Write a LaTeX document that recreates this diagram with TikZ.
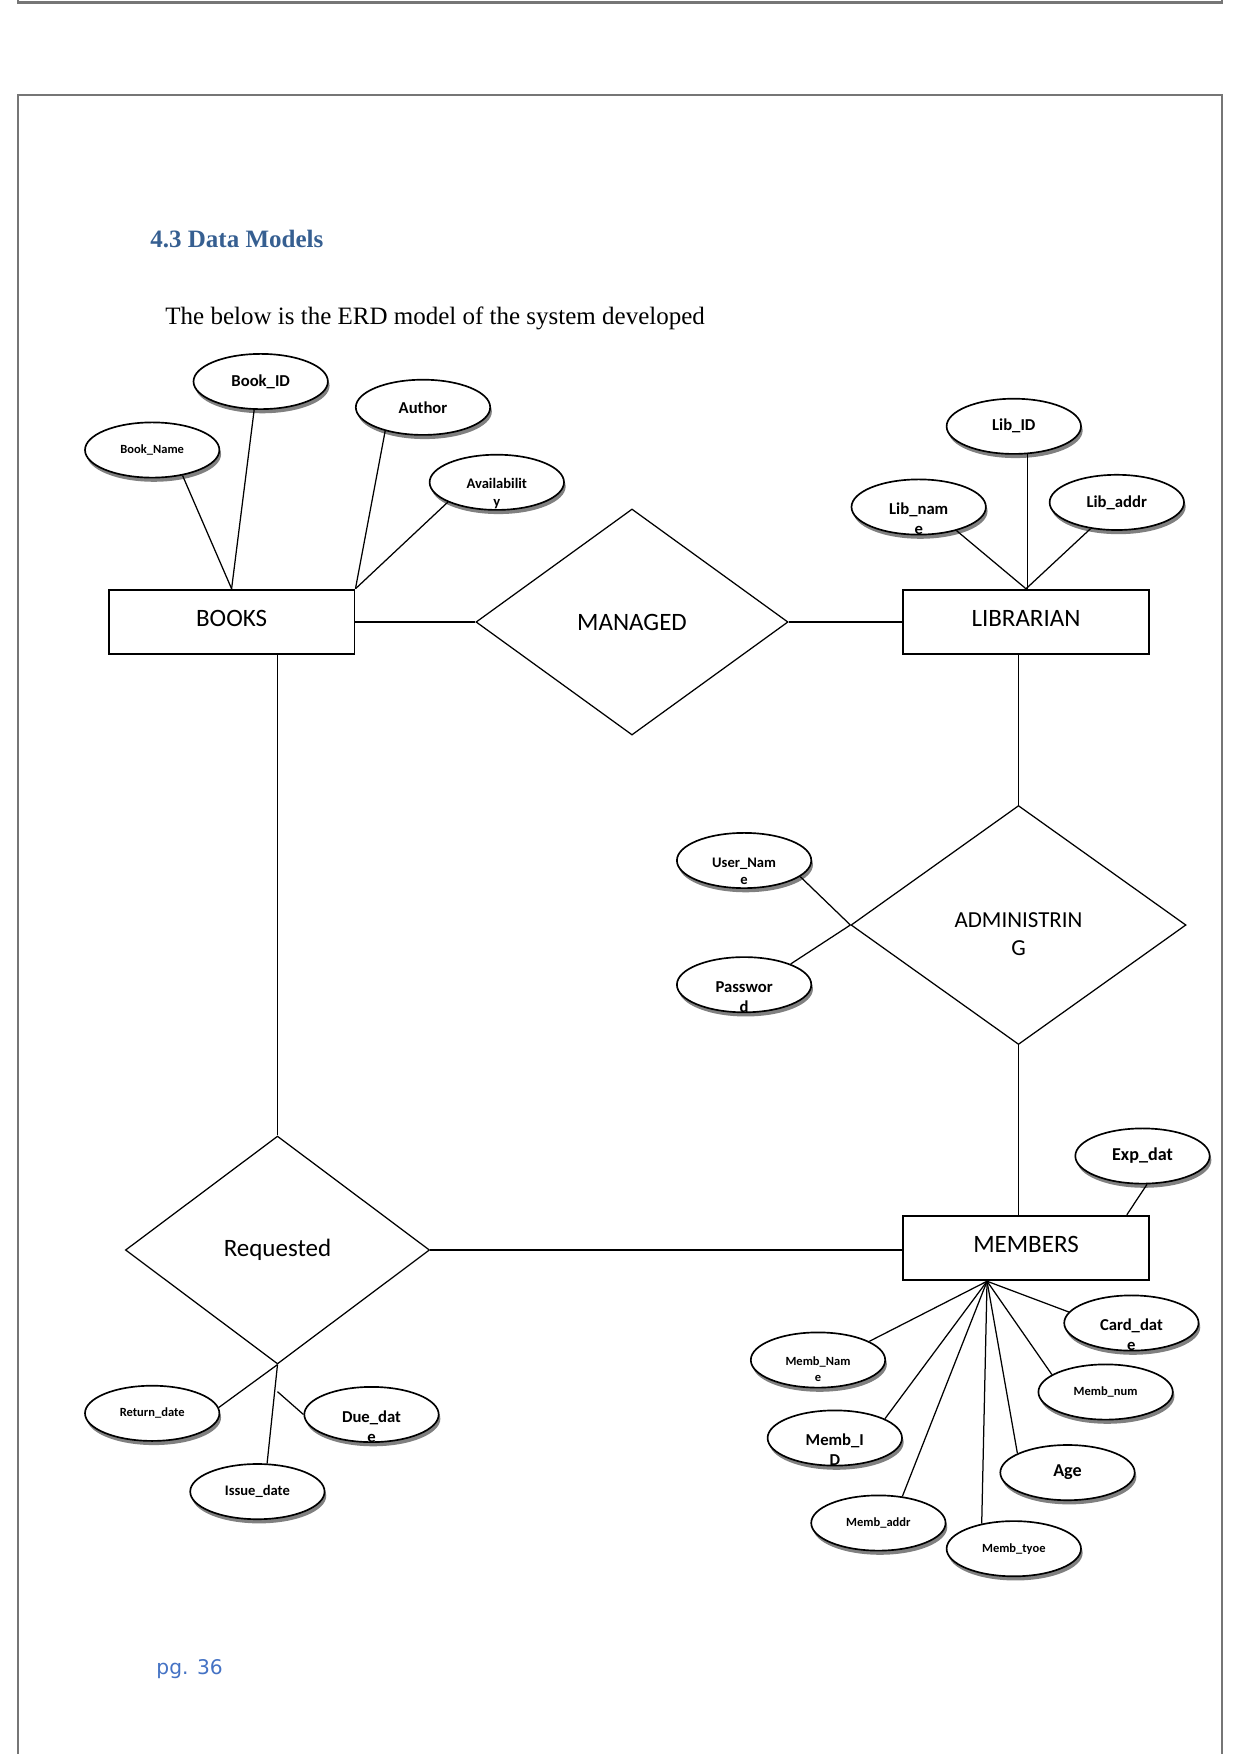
\documentclass[tikz,border=0pt]{standalone}
\usepackage{fontspec}
\setmainfont{Liberation Serif}
\newfontfamily\erdfont{Carlito}
\newfontfamily\pgfont{DejaVu Sans}
\usepackage{tikz}
\usetikzlibrary{shapes.geometric,shadows}
\definecolor{headBlue}{RGB}{54,95,145}
\definecolor{pageBlue}{RGB}{68,114,196}
\definecolor{frameGray}{RGB}{118,118,118}
\newcommand{\wrapped}[3][0.45em]{\smash{\raisebox{-#1}{\begin{tabular}[t]{@{}c@{}}#2\\#3\end{tabular}}}}

\begin{document}
\begin{tikzpicture}[x=0.48pt,y=-0.48pt,
  ent/.style={rectangle,draw,line width=0.9pt,minimum width=118pt,minimum height=31pt,
              text depth=3.2pt,font=\erdfont\fontsize{12}{14}\selectfont},
  rel/.style={diamond,draw,line width=0.6pt,inner sep=0pt,font=\erdfont\fontsize{12}{14}\selectfont},
  attr/.style={ellipse,draw,line width=0.8pt,fill=white,minimum width=64.5pt,minimum height=26.5pt,
               inner sep=0pt,font=\erdfont\bfseries\fontsize{8}{9.8}\selectfont,
               drop shadow={shadow xshift=0.8pt,shadow yshift=-2pt,fill=black!50,opacity=1}},
  txtS/.style={font=\erdfont\bfseries\fontsize{6}{7.6}\selectfont},
  txtM/.style={font=\erdfont\bfseries\fontsize{7}{8.6}\selectfont},
  txtL/.style={font=\erdfont\bfseries\fontsize{8.7}{10.4}\selectfont},
  ln/.style={line width=0.6pt},
  frame/.style={draw=frameGray,line width=1.2pt}
]
  \useasboundingbox (0,0) rectangle (1241,1754);
  % page frames
  \draw[frame](18,0)--(18,2.5)--(1222,2.5)--(1222,0);
  \draw[frame](18,1760)--(18,95)--(1222,95)--(1222,1760);

  \node[anchor=west,inner sep=0pt,text=headBlue,font=\bfseries\fontsize{12}{14}\selectfont](title) at (150,239){4.3 Data Models};
  \node[anchor=west,inner sep=0pt,font=\fontsize{12}{14}\selectfont](intro) at (165,318){The below is the ERD model of the system developed};
  \node[anchor=west,inner sep=0pt,text=pageBlue,font=\pgfont\fontsize{9.7}{12}\selectfont](pgno) at (156,1669){pg. 36};

  % entities and relationships
  \node[ent](books) at (231.6,622){BOOKS};
  \node[ent](lib)   at (1026,622){LIBRARIAN};
  \node[ent](mem)   at (1026,1248){MEMBERS};
  \node[rel,minimum width=149.8pt,minimum height=108.5pt](man) at (632,622){MANAGED};
  \node[rel,minimum width=160.8pt,minimum height=114.7pt,font=\erdfont\fontsize{11}{13.4}\selectfont](adm) at (1018.5,925){\wrapped[0.13em]{ADMINISTRIN}{G}};
  \node[rel,minimum width=146pt,minimum height=109.4pt](req) at (277.5,1250){Requested};

  \draw[ln](books.east)--(man.west);
  \draw[ln](man.east)--(lib.west);
  \draw[ln](req.north)--(req.north|-books.south);
  \draw[ln](adm.north)--(adm.north|-lib.south);
  \draw[ln](adm.south)--(adm.south|-mem.north);
  \draw[ln](req.east)--(req.east-|mem.west);

  % BOOKS attributes
  \node[attr](bid)        at (260.7,381.5){Book\_ID};
  \node[attr,txtS](bname) at (152.2,450){Book\_Name};
  \node[attr](auth)       at (423,407.3){Author};
  \node[attr,txtM](avail) at (496.8,482.3){\wrapped{Availabilit}{y}};
  \draw[ln](bname.320)--(books.north);
  \draw[ln](bid.257)--(books.north);
  \draw[ln](auth.212)--(books.north east);
  \draw[ln](avail.202)--(books.north east);

  % LIBRARIAN attributes
  \node[attr](lid)   at (1013.8,426.3){Lib\_ID};
  \node[attr](lname) at (918.7,507){\wrapped{Lib\_nam}{e}};
  \node[attr](laddr) at (1116.8,502.4){Lib\_addr};
  \draw[ln](lid.296)--(lid.296|-lib.north);
  \draw[ln](lname.328)--(lib.north);
  \draw[ln](laddr.225)--(lib.north);

  % ADMINISTRING attributes
  \node[attr,txtM](uname) at (744.1,860.5){\wrapped{User\_Nam}{e}};
  \node[attr](pwd)        at (744.1,984.7){\wrapped{Passwor}{d}};
  \draw[ln](uname.344)--(adm.west);
  \draw[ln](pwd.24)--(adm.west);

  % MEMBERS attributes
  \node[attr,txtL](exp)   at (1142.5,1156){Exp\_dat};
  \node[attr](card)       at (1131.4,1323){\wrapped{Card\_dat}{e}};
  \node[attr,txtS](mname) at (818,1360){\wrapped{Memb\_Nam}{e}};
  \node[attr,txtS](mnum)  at (1105.6,1392){Memb\_num};
  \node[attr](mid)        at (834.8,1438){\wrapped{Memb\_I}{D}};
  \node[attr,txtL](age)   at (1067.5,1472.6){Age};
  \node[attr,txtS](maddr) at (878.4,1523){Memb\_addr};
  \node[attr,txtS](mtype) at (1013.8,1548.7){Memb\_tyoe};
  \coordinate (mempin) at ([xshift=48.4pt]mem.north);
  \coordinate (memhub) at ([xshift=-18.7pt]mem.south);
  \draw[ln](exp.279)--(mempin);
  \draw[ln](card.170)--(memhub);
  \draw[ln](mname.20)--(memhub);
  \draw[ln](mnum.162)--(memhub);
  \draw[ln](mid.21)--(memhub);
  \draw[ln](age.159)--(memhub);
  \draw[ln](maddr.48)--(memhub);
  \draw[ln](mtype.142)--(memhub);

  % Requested attributes
  \node[attr,txtS](ret)   at (152.2,1413.3){Return\_date};
  \node[attr](due)        at (371.5,1414.5){\wrapped{Due\_dat}{e}};
  \node[attr,txtM](issue) at (257.4,1491.6){Issue\_date};
  \coordinate (reqfoot) at ([yshift=-13pt]req.south);
  \draw[ln](ret.5)--(req.south);
  \draw[ln](issue.71)--(req.south);
  \draw[ln](due.west)--(reqfoot);
\end{tikzpicture}
\end{document}
